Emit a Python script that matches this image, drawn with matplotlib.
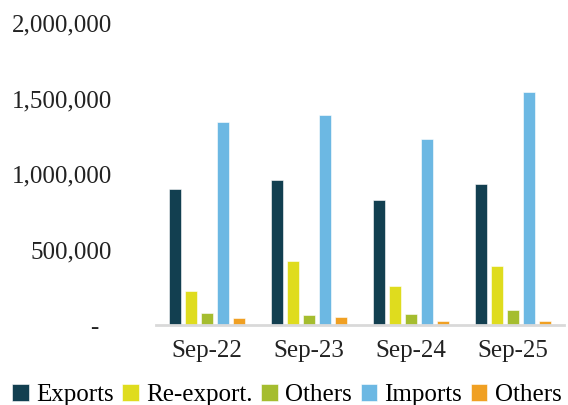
import numpy as np
import matplotlib.pyplot as plt
from matplotlib.ticker import FuncFormatter

# valores
periodos = ['Sep-22', 'Sep-23', 'Sep-24', 'Sep-25']
exports = [900000, 958000, 826000, 934000]
reexport = [225000, 422000, 260000, 393000]
others1 = [80000, 66000, 71000, 99000]
imports = [1342000, 1389000, 1230000, 1545000]
others2 = [48000, 53000, 26000, 24000]

series = [exports, reexport, others1, imports, others2]
nomes = ['Exports', 'Re-export.', 'Others', 'Imports', 'Others']
cores = ['#123f50', '#dfdc1e', '#a5bd2f', '#6cb8e3', '#f0a023']

plt.rcParams['font.family'] = ['Liberation Serif', 'DejaVu Serif']

fig = plt.figure(figsize=(5.68, 4.05), dpi=100)
ax = fig.add_axes([0.2746, 0.1975, 0.7184, 0.7455])

x = np.arange(len(periodos))
passo = 0.157
largura = 0.123
for i, (vals, nome, cor) in enumerate(zip(series, nomes, cores)):
    desloc = (i - 2) * passo
    ax.bar(x + desloc, vals, largura, color=cor, label=nome,
           edgecolor='white', linewidth=0.4)

ax.set_xlim(-0.5, 3.5)
ax.set_ylim(0, 2000000)
ax.set_yticks([0, 500000, 1000000, 1500000, 2000000])
# formato contábil: zero vira traço com espaços à direita
ax.yaxis.set_major_formatter(FuncFormatter(lambda v, p: '-  ' if v == 0 else f'{int(v):,}'))
ax.set_xticks(x)
ax.set_xticklabels(periodos)
ax.tick_params(axis='both', length=0, labelsize=18, colors='#222222')
ax.tick_params(axis='y', pad=31.7)
ax.tick_params(axis='x', pad=11)

for lado in ['top', 'right', 'left']:
    ax.spines[lado].set_visible(False)
ax.spines['bottom'].set_color('#d9d9d9')
ax.spines['bottom'].set_linewidth(2)

fig.legend(loc='lower center', bbox_to_anchor=(0.505, -0.04), ncol=5, frameon=False,
           fontsize=18, handlelength=0.65, handleheight=0.65, handletextpad=0.3,
           columnspacing=0.35, borderaxespad=0.2)

fig.savefig('out.png', dpi=100)
